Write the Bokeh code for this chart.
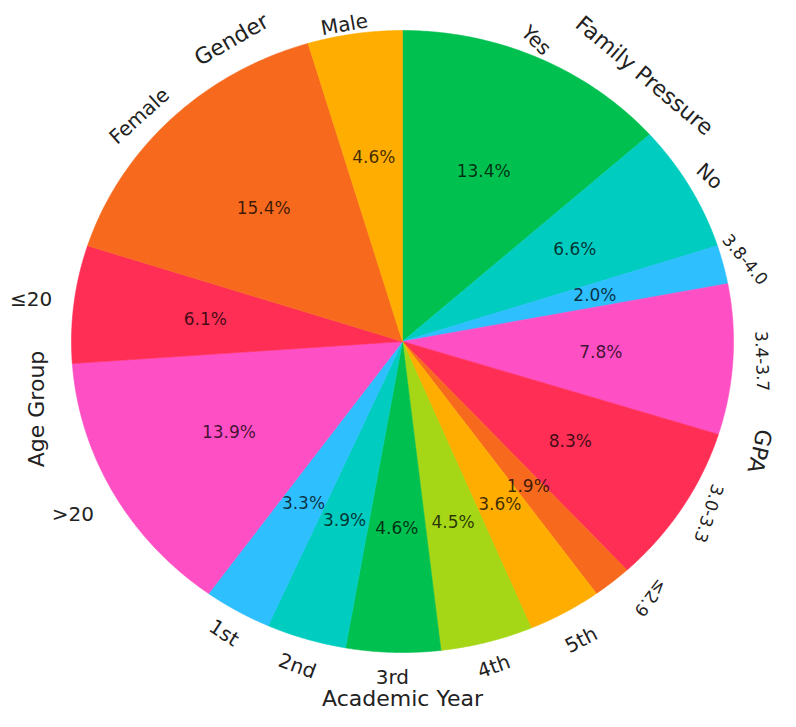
import numpy as np
from bokeh.plotting import figure
from bokeh.models import ColumnDataSource, Range1d
from bokeh.embed import file_html
from bokeh.resources import INLINE
from bokeh.core.properties import value

# ---- data ----
categories = ["Yes", "No", "3.8-4.0", "3.4-3.7", "3.0-3.3", "≤2.9",
              "5th", "4th", "3rd", "2nd", "1st", ">20", "≤20", "Female", "Male"]
shares = [13.4, 6.6, 2.0, 7.8, 8.3, 1.9, 3.6, 4.5, 4.6, 3.9, 3.3, 13.9, 6.1, 15.4, 4.6]
group_names = ["Family Pressure", "GPA", "Academic Year", "Age Group", "Gender"]
group_sizes = [2, 4, 5, 2, 2]

# ---- style ----
palette = ["#00C050", "#00CCC0", "#2EBFFF", "#FF4FC4", "#FF2E55", "#F76A1E", "#FFAD00", "#A5D716"]
cat_rot = [-45, -42, -50, -88, -108, -127, 27, 20, 0, -20, -33, 0, 0, 42, 10]
cat_r = [1.05, 1.07, 1.07, 1.09, 1.08, 1.115, 1.10, 1.08, 1.08, 1.09, 1.08, 1.14, 1.13, 1.077, 1.035]
cat_off = [-1.5, 0, 0, 0, -1.5, -3, 0, 0, 0, 0, 0, 0, 0, -3.3, -1.5]
cat_size = ["20px", "20px", "17px", "17px", "17px", "17px", "20px", "20px", "20px",
            "20px", "20px", "20px", "20px", "20px", "20px"]
grp_rot = [-40, -103, 0, 90, 30]
grp_r = [1.125, 1.135, 1.147, 1.126, 1.10]
grp_off = [4.5, 0, 0, 7, 8]
FONT = "DejaVu Sans"

vals = np.array(shares, dtype=float)
frac = vals / vals.sum()
ends = np.cumsum(frac) * 360.0
starts = ends - frac * 360.0
mids = (starts + ends) / 2.0

xs, ys = [], []
for a0, a1 in zip(starts, ends):
    t = np.radians(np.linspace(a0, a1, 80))
    xs.append(np.concatenate([[0.0], np.sin(t), [0.0]]))
    ys.append(np.concatenate([[0.0], np.cos(t), [0.0]]))
colors = [palette[i % len(palette)] for i in range(len(categories))]

W, H = 780, 711
RX, RY = 331.0, 311.0
CX, CY = 402.0, 341.0
p = figure(width=W, height=H, output_backend="svg", toolbar_location=None,
           x_range=Range1d(-CX / RX, (W - CX) / RX),
           y_range=Range1d(-(H - CY) / RY, CY / RY), min_border=0)
p.axis.visible = False
p.grid.visible = False
p.outline_line_color = None
p.background_fill_color = "white"
p.border_fill_color = "white"

p.patches(xs="xs", ys="ys", fill_color="color", line_color="color", line_width=0.6,
          source=ColumnDataSource(dict(xs=xs, ys=ys, color=colors)))

# percent labels
mr = np.radians(mids)
pct = ColumnDataSource(dict(x=0.6 * np.sin(mr), y=0.6 * np.cos(mr),
                            t=[f"{v:.1f}%" for v in shares]))
p.text(x="x", y="y", text="t", source=pct, text_font=value(FONT),
       text_font_size=value("17px"), text_align="center", text_baseline="middle",
       text_color="black", text_alpha=0.75)

# category labels
cr = np.array(cat_r)
ca = np.radians(mids + np.array(cat_off))
cat = ColumnDataSource(dict(x=cr * np.sin(ca), y=cr * np.cos(ca), t=categories,
                            a=np.radians(cat_rot), s=cat_size))
p.text(x="x", y="y", text="t", angle="a", source=cat, text_font=value(FONT),
       text_font_size="s", text_align="center", text_baseline="middle",
       text_color="#222222")

# group labels
gx, gy = [], []
idx = 0
for k, n in enumerate(group_sizes):
    g0 = starts[idx]
    g1 = ends[idx + n - 1]
    ga = np.radians((g0 + g1) / 2.0 + grp_off[k])
    gx.append(grp_r[k] * np.sin(ga))
    gy.append(grp_r[k] * np.cos(ga))
    idx += n
grp = ColumnDataSource(dict(x=gx, y=gy, t=group_names, a=np.radians(grp_rot)))
p.text(x="x", y="y", text="t", angle="a", source=grp, text_font=value(FONT),
       text_font_size=value("22px"), text_align="center", text_baseline="middle",
       text_color="#222222")

open("out.html", "w").write(file_html(p, INLINE))
